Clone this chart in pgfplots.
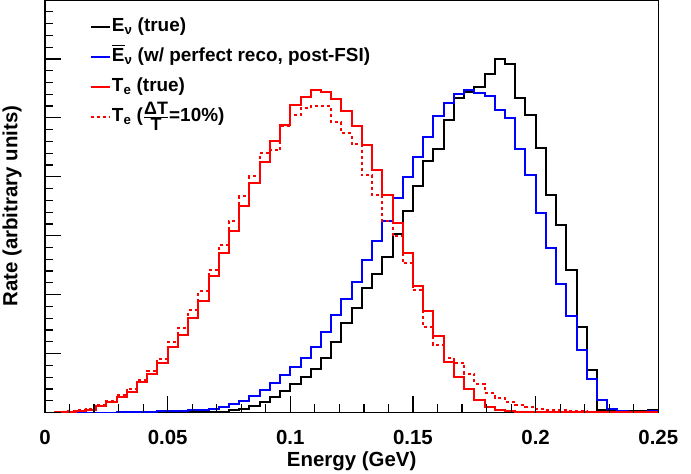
\documentclass[border=0pt]{standalone}
\usepackage{pgfplots}
\usepackage{pgfplotstable}
\pgfplotsset{compat=1.18}
\usepackage{fontspec}
\setmainfont{Liberation Sans}

\pgfplotstableread{
bin Etrue Ereco Ttrue Tsmear
0 0 0 0 0
1 0 0 0.3 0.5
2 0 0 1 1.5
3 0 0 1.5 2.5
4 0 0 3 4
5 0 0 6.5 7.5
6 0 0 10.8 12
7 0 0.3 15.8 17.5
8 0 0.5 20.8 24
9 0 0.7 30.8 33
10 0 1 39 42
11 0 1.3 50 54
12 0.2 1.6 65 70
13 0.3 2 77.5 84
14 0.4 2.5 94 102
15 0.5 3 111 121
16 0.7 4 136 142
17 1 6 159 167
18 2.5 9 181 191
19 4 12 206 216
20 7 17 229 236
21 11 23 250 259
22 16 30 271 262
23 22 37.5 287.5 286
24 29 45.8 307.5 297
25 36 54.2 315 304
26 44 65.8 322 306
27 55 80.8 320 306
28 70 97.5 313 290
29 89 113 301 279
30 104 130 286 268
31 124 152 267.5 237
32 138 171 242.5 217.5
33 155 191 217.5 191
34 178.5 214 189 176
35 201 235 159 149
36 226 255 126 122
37 251 275 101 85
38 263.5 296 76 67.5
39 292.5 309 51 55
40 314 318 36 50
41 320 322 24 39
42 325.5 319.5 12.5 29
43 338.5 316 6 20
44 353 302.5 3 15
45 348.5 294 2 11
46 314 263 1 8
47 297.5 237.5 0.5 6
48 264 199 0.5 4
49 217.5 164 0.3 3
50 187.5 128.5 0.3 2.5
51 142.5 96.5 0.3 2
52 85.8 62.5 0.3 1.5
53 42.5 34 0.3 1
54 2.5 12.5 0.3 1
55 1.8 4 0.3 0.5
56 1.5 1.5 0.3 0.5
57 1.2 1 0.3 0.5
58 1.5 1 0.3 0.5
59 2.5 1.5 1 0.5
60 2.5 1.5 1 0.5
}\histdata

\newcommand{\Ebar}{\makebox[0pt][l]{\raisebox{15.2bp}{\rule{12.6bp}{1.4bp}}}E}

\begin{document}
\begin{tikzpicture}[font=\bfseries]
\useasboundingbox (-45bp,-61.5bp) rectangle (646bp,412.5bp);
\begin{axis}[
  at={(0,0)}, anchor=south west,
  scale only axis, width=613.3bp, height=412.5bp,
  xmin=0, xmax=0.25, ymin=0, ymax=412.5,
  xtick={0,0.05,0.1,0.15,0.2,0.25},
  xticklabels={0,0.05,0.1,0.15,0.2,0.25},
  scaled x ticks=false,
  ytick=\empty,
  tick align=inside, xtick pos=bottom,
  major tick length=13bp,
  tick style={black, line width=1.2bp},
  axis line style={line width=1.2bp},
  xticklabel style={font=\fontsize{20.5}{24}\selectfont\bfseries, anchor=center, yshift=-24.5bp},
  xlabel={Energy (GeV)},
  xlabel style={at={(axis description cs:0.5,-0.1176)}, anchor=center, font=\fontsize{20.5}{24}\selectfont\bfseries},
  ylabel={Rate (arbitrary units)},
  ylabel style={at={(axis description cs:-0.0538,0.5)}, anchor=center, font=\fontsize{20.5}{24}\selectfont\bfseries},
  legend style={at={(axis description cs:0.073,0.958)}, anchor=north west, draw=none, fill=none,
    font=\fontsize{19}{22}\selectfont\bfseries, row sep=11bp, inner xsep=0pt, inner ysep=0pt,
    nodes={text height=13bp, text depth=4bp, inner sep=1bp}},
  legend cell align=left,
  legend image code/.code={\draw[#1] (0bp,0bp) -- (19bp,0bp);},
]
\addplot[const plot, black, line width=2bp] table[x expr=\thisrow{bin}/240, y=Etrue] {\histdata};
\addlegendentry{E\textsubscript{ν} (true)}
\addplot[const plot, blue, line width=2bp] table[x expr=\thisrow{bin}/240, y=Ereco] {\histdata};
\addlegendentry{\Ebar\textsubscript{ν} (w/ perfect reco, post-FSI)}
\addplot[const plot, red, line width=2bp] table[x expr=\thisrow{bin}/240, y=Ttrue] {\histdata};
\addlegendentry{T\textsubscript{e} (true)}
\addplot[const plot, red, line width=2bp, dash pattern=on 3bp off 3bp] table[x expr=\thisrow{bin}/240, y=Tsmear] {\histdata};
\addlegendentry{T\textsubscript{e} ($\frac{\mbox{\fontsize{18}{18}\selectfont ΔT}}{\mbox{\fontsize{18}{18}\selectfont T}}$=10\%)}
\end{axis}
% tick marks on left and bottom, drawn inside the frame
\begin{axis}[
  at={(0,0)}, anchor=south west,
  scale only axis, width=613.3bp, height=412.5bp,
  xmin=0, xmax=0.25, ymin=0, ymax=412.5,
  axis line style={draw=none},
  xtick={0,0.05,0.1,0.15,0.2,0.25},
  xticklabels={},
  minor xtick={0.01,0.02,0.03,0.04,0.06,0.07,0.08,0.09,0.11,0.12,0.13,0.14,0.16,0.17,0.18,0.19,0.21,0.22,0.23,0.24},
  ytick={0,58.93,117.86,176.79,235.71,294.64,353.57,412.5},
  yticklabels={},
  minor ytick={11.79,23.57,35.36,47.14,70.71,82.5,94.29,106.07,129.64,141.43,153.21,165,188.57,200.36,212.14,223.93,247.5,259.29,271.07,282.86,306.43,318.21,330,341.79,365.36,377.14,388.93,400.71},
  tick align=inside, ytick pos=left, xtick pos=bottom,
  major tick length=16bp, minor tick length=8bp,
  tick style={black, line width=1.2bp},
]
\end{axis}
\end{tikzpicture}
\end{document}
